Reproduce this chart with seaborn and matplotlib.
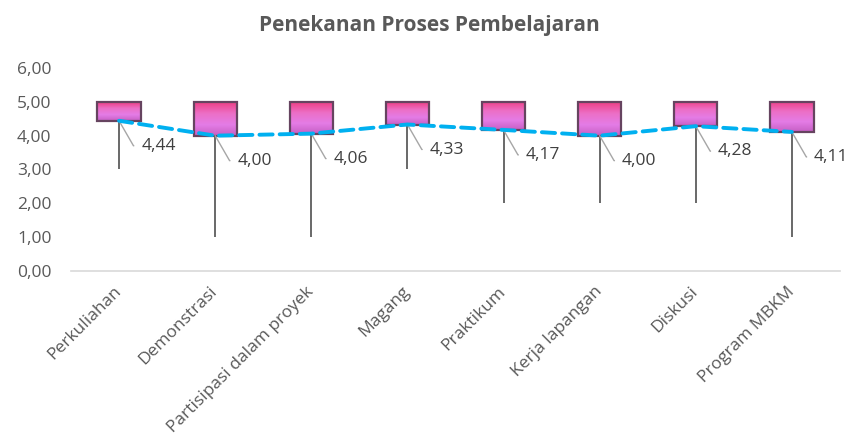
import numpy as np
import matplotlib.pyplot as plt
import seaborn as sns
from matplotlib.colors import LinearSegmentedColormap

# data
categories = ['Perkuliahan', 'Demonstrasi', 'Partisipasi dalam proyek', 'Magang',
              'Praktikum', 'Kerja lapangan', 'Diskusi', 'Program MBKM']
mean_vals = [4.44, 4.00, 4.06, 4.33, 4.17, 4.00, 4.28, 4.11]
high_vals = [5, 5, 5, 5, 5, 5, 5, 5]
low_vals = [3, 1, 1, 3, 2, 2, 2, 1]
labels = ['4,44', '4,00', '4,06', '4,33', '4,17', '4,00', '4,28', '4,11']

sns.set_style('white')
plt.rcParams['font.family'] = ['Open Sans', 'DejaVu Sans']

fig = plt.figure(figsize=(8.51, 4.41), dpi=100)
ax = fig.add_axes([0.0834, 0.3855, 0.9036, 0.4603])

x = np.arange(len(categories))
txt_color = '#595959'

# high-low lines
ax.vlines(x, low_vals, high_vals, color='#404040', linewidth=1.1, zorder=1)

# up/down bars with a pink gradient
heights = np.array(high_vals) - np.array(mean_vals)
bars = ax.bar(x, heights, bottom=mean_vals, width=0.45, facecolor='none',
              edgecolor='#664460', linewidth=1.6, zorder=3)
cmap = LinearSegmentedColormap.from_list('pinkbox', ['#ee3f86', '#ec6fc6', '#e47ce6', '#c65fc4'])
grad = np.linspace(0, 1, 64).reshape(-1, 1)
for b in bars:
    bx, by = b.get_x(), b.get_y()
    im = ax.imshow(grad, cmap=cmap, aspect='auto', zorder=2,
                   extent=(bx, bx + b.get_width(), by, by + b.get_height()))
    im.set_clip_path(b)

# mean line
sns.lineplot(x=x, y=mean_vals, ax=ax, color='#00b0f0', linewidth=2.8,
             linestyle=(0, (3.4, 1.8)), dash_capstyle='round', zorder=4)

# data labels with leader lines
for xi, m, lab in zip(x, mean_vals, labels):
    ax.annotate(lab, xy=(xi, m), xytext=(16, -18), textcoords='offset points',
                ha='left', va='center', fontsize=12.5, color='#404040',
                arrowprops=dict(arrowstyle='-', color='#a6a6a6', lw=1,
                                shrinkA=3, shrinkB=0,
                                connectionstyle='angle,angleA=0,angleB=-60,rad=0'))

ax.set_xlim(-0.5, len(categories) - 0.5)
ax.set_ylim(0, 6)
ax.set_yticks(np.arange(0, 7, 1))
ax.set_yticklabels([f'{v:.2f}'.replace('.', ',') for v in np.arange(0, 7, 1)],
                   fontsize=12.5, color=txt_color)
ax.set_xticks(x)
ax.set_xticklabels(categories, rotation=45, ha='right', va='center',
                   rotation_mode='anchor', fontsize=12.5, color=txt_color)
ax.tick_params(axis='both', length=0)
ax.tick_params(axis='x', pad=13)
ax.tick_params(axis='y', pad=14)

sns.despine(ax=ax, left=True, top=True, right=True)
ax.spines['bottom'].set_color('#d9d9d9')
ax.spines['bottom'].set_linewidth(1.2)

fig.suptitle('Penekanan Proses Pembelajaran', x=0.505, y=0.965, fontsize=15,
             fontweight='bold', color=txt_color)

fig.savefig('out.png', dpi=100)
